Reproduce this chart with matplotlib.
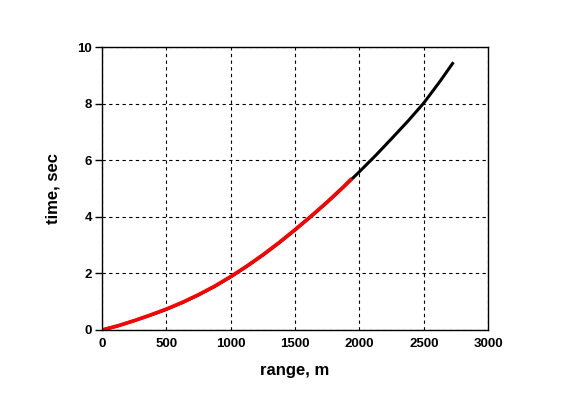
import matplotlib
matplotlib.use("Agg")
import matplotlib.pyplot as plt

# Black curve (full range)
range_black = [0, 125, 250, 375, 500, 625, 750, 875, 1000, 1125, 1250, 1375, 1500,
               1625, 1750, 1875, 2000, 2125, 2250, 2375, 2500, 2625, 2730]
time_black = [0.0, 0.15, 0.33, 0.52, 0.73, 0.97, 1.24, 1.54, 1.88, 2.25, 2.65, 3.08, 3.54,
              4.02, 4.52, 5.05, 5.60, 6.17, 6.77, 7.38, 8.03, 8.79, 9.47]

# Red curve (shorter)
range_red = [0, 125, 250, 375, 500, 625, 750, 875, 1000, 1125, 1250, 1375, 1500,
             1625, 1750, 1875, 1940]
time_red = [0.0, 0.15, 0.33, 0.53, 0.74, 0.98, 1.25, 1.55, 1.89, 2.26, 2.66, 3.09, 3.55,
            4.03, 4.53, 5.06, 5.36]

xticks = [0, 500, 1000, 1500, 2000, 2500, 3000]
yticks = [0, 2, 4, 6, 8, 10]

plt.rcParams['font.family'] = ['Liberation Sans', 'DejaVu Sans']

fig = plt.figure(figsize=(5.67, 3.96), dpi=100)
ax = fig.add_axes([0.18, 0.1667, 0.681, 0.714])

ax.plot(range_black, time_black, color='black', lw=2.2, solid_capstyle='butt')
ax.plot(range_red, time_red, color='#ff0000', lw=2.6, solid_capstyle='butt')

ax.set_xlim(0, 3000)
ax.set_ylim(0, 10)
ax.set_xticks(xticks)
ax.set_yticks(yticks)
ax.set_xticklabels([str(v) for v in xticks], fontsize=9.5, fontweight='bold')
ax.set_yticklabels([str(v) for v in yticks], fontsize=9.5, fontweight='bold')
ax.tick_params(axis='x', length=0, pad=6)
ax.tick_params(axis='y', length=5, width=1, direction='out', pad=2)

ax.grid(True, color='black', linestyle=(0, (3, 3)), linewidth=0.8)
for s in ax.spines.values():
    s.set_linewidth(1.0)
    s.set_color('black')

ax.set_xlabel('range, m', fontsize=12, fontweight='bold', labelpad=9)
ax.set_ylabel('time, sec', fontsize=12, fontweight='bold', labelpad=12)

fig.savefig('out.png', dpi=100)
